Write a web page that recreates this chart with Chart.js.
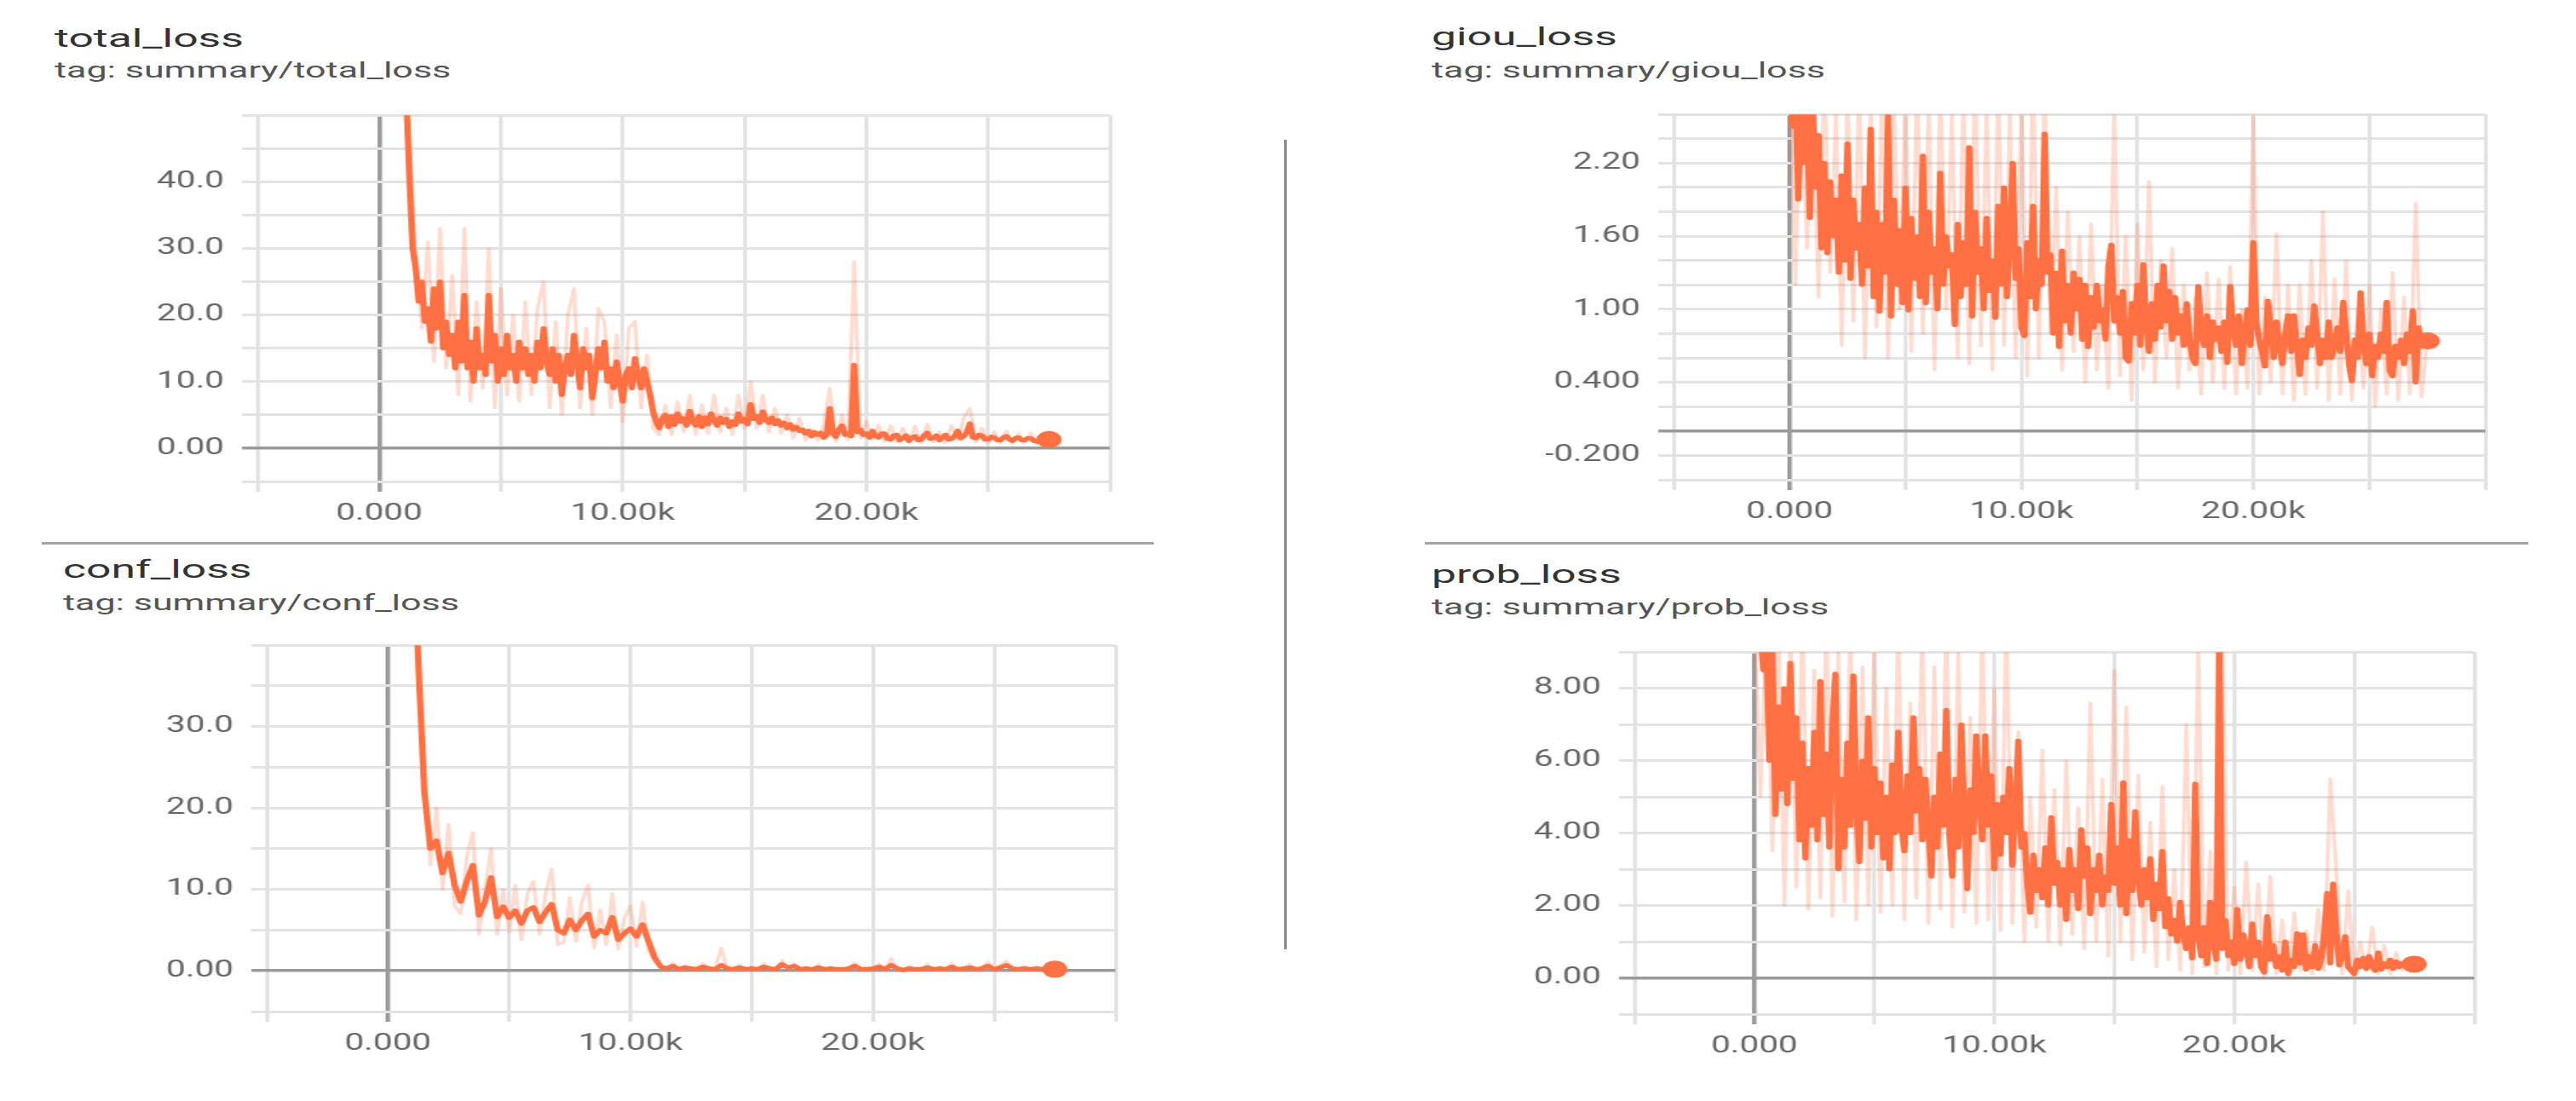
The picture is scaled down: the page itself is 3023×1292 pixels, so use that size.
<!DOCTYPE html>
<html>
<head>
<meta charset="utf-8">
<title>loss curves</title>
<script src="https://cdn.jsdelivr.net/npm/chart.js@4.4.1/dist/chart.umd.min.js"></script>
<style>
  html, body { margin: 0; padding: 0; background: #fff; }
  body { width: 3023px; height: 1292px; position: relative; overflow: hidden; font-family: Roboto, 'Noto Sans', sans-serif; }
  .title, .tag { position: absolute; white-space: nowrap; line-height: 1; transform: scaleX(1.72); transform-origin: 0 0; }
  .title { font-size: 30px; color: #333; }
  .tag { font-size: 25px; color: #555; }
  /* the source screenshot is stretched sideways, so each plot is too */
  .plot { position: absolute; transform: scaleX(1.5); transform-origin: 0 0; }
  .rule { position: absolute; background: #a3a3a3; }
</style>
</head>
<body>

<div class="title" style="left:64px;top:30px">total_loss</div>
<div class="tag" style="left:64px;top:70px">tag: summary/total_loss</div>
<div class="plot" style="left:152px;top:105px;width:777px;height:520px"><canvas id="c-total"></canvas></div>

<div class="title" style="left:1680px;top:28px">giou_loss</div>
<div class="tag" style="left:1680px;top:70px">tag: summary/giou_loss</div>
<div class="plot" style="left:1814px;top:104px;width:745px;height:519px"><canvas id="c-giou"></canvas></div>

<div class="title" style="left:74px;top:653px">conf_loss</div>
<div class="tag" style="left:74px;top:695px">tag: summary/conf_loss</div>
<div class="plot" style="left:163px;top:727px;width:774px;height:520px"><canvas id="c-conf"></canvas></div>

<div class="title" style="left:1680px;top:659px">prob_loss</div>
<div class="tag" style="left:1680px;top:700px">tag: summary/prob_loss</div>
<div class="plot" style="left:1768px;top:735px;width:767px;height:515px"><canvas id="c-prob"></canvas></div>

<div class="rule" style="left:49px;top:636px;width:1305px;height:3px"></div>
<div class="rule" style="left:1672px;top:636px;width:1295px;height:3px"></div>
<div class="rule" style="left:1507px;top:164px;width:3px;height:950px;background:#8a8a8a"></div>

<script>
/* ── data ──────────────────────────────────────────────────────── */

// raw curves and conf_loss: one value every 250 steps
const STEPS = [
  0, 250, 500, 750, 1000, 1250, 1500, 1750, 2000, 2250,
  2500, 2750, 3000, 3250, 3500, 3750, 4000, 4250, 4500, 4750,
  5000, 5250, 5500, 5750, 6000, 6250, 6500, 6750, 7000, 7250,
  7500, 7750, 8000, 8250, 8500, 8750, 9000, 9250, 9500, 9750,
  10000, 10250, 10500, 10750, 11000, 11250, 11500, 11750, 12000, 12250,
  12500, 12750, 13000, 13250, 13500, 13750, 14000, 14250, 14500, 14750,
  15000, 15250, 15500, 15750, 16000, 16250, 16500, 16750, 17000, 17250,
  17500, 17750, 18000, 18250, 18500, 18750, 19000, 19250, 19500, 19750,
  20000, 20250, 20500, 20750, 21000, 21250, 21500, 21750, 22000, 22250,
  22500, 22750, 23000, 23250, 23500, 23750, 24000, 24250, 24500, 24750,
  25000, 25250, 25500, 25750, 26000, 26250, 26500, 26750, 27000, 27250,
  27500
];

// the noisier smoothed curves: one value every 125 steps
const FINE_STEPS = [
  0, 125, 250, 375, 500, 625, 750, 875, 1000, 1125,
  1250, 1375, 1500, 1625, 1750, 1875, 2000, 2125, 2250, 2375,
  2500, 2625, 2750, 2875, 3000, 3125, 3250, 3375, 3500, 3625,
  3750, 3875, 4000, 4125, 4250, 4375, 4500, 4625, 4750, 4875,
  5000, 5125, 5250, 5375, 5500, 5625, 5750, 5875, 6000, 6125,
  6250, 6375, 6500, 6625, 6750, 6875, 7000, 7125, 7250, 7375,
  7500, 7625, 7750, 7875, 8000, 8125, 8250, 8375, 8500, 8625,
  8750, 8875, 9000, 9125, 9250, 9375, 9500, 9625, 9750, 9875,
  10000, 10125, 10250, 10375, 10500, 10625, 10750, 10875, 11000, 11125,
  11250, 11375, 11500, 11625, 11750, 11875, 12000, 12125, 12250, 12375,
  12500, 12625, 12750, 12875, 13000, 13125, 13250, 13375, 13500, 13625,
  13750, 13875, 14000, 14125, 14250, 14375, 14500, 14625, 14750, 14875,
  15000, 15125, 15250, 15375, 15500, 15625, 15750, 15875, 16000, 16125,
  16250, 16375, 16500, 16625, 16750, 16875, 17000, 17125, 17250, 17375,
  17500, 17625, 17750, 17875, 18000, 18125, 18250, 18375, 18500, 18625,
  18750, 18875, 19000, 19125, 19250, 19375, 19500, 19625, 19750, 19875,
  20000, 20125, 20250, 20375, 20500, 20625, 20750, 20875, 21000, 21125,
  21250, 21375, 21500, 21625, 21750, 21875, 22000, 22125, 22250, 22375,
  22500, 22625, 22750, 22875, 23000, 23125, 23250, 23375, 23500, 23625,
  23750, 23875, 24000, 24125, 24250, 24375, 24500, 24625, 24750, 24875,
  25000, 25125, 25250, 25375, 25500, 25625, 25750, 25875, 26000, 26125,
  26250, 26375, 26500, 26625, 26750, 26875, 27000, 27125, 27250, 27375,
  27500
];

// total_loss (smoothed on FINE_STEPS, raw on STEPS)
const TOTAL_SMOOTH = [
  200, 170, 140, 120, 100, 85, 72, 62, 55, 52,
  40, 30, 27, 22, 25, 19, 21, 16, 24, 18,
  25, 15, 19, 14, 17, 12, 19, 13, 23, 12,
  16, 10, 18, 12, 14, 11, 23, 13, 17, 10,
  15, 11, 17, 12, 14, 10, 16, 12, 15, 11,
  14, 10, 16, 12, 18, 13, 11, 15, 10, 14,
  8, 12, 14, 11, 17, 13, 9, 15, 12, 14,
  7.5, 11, 15, 12, 16, 10, 12, 9, 13, 10,
  7, 11, 12, 9, 13.5, 11, 9, 12, 10, 8,
  5.5, 4, 3, 4.5, 5, 3.2, 4.8, 3.5, 5.2, 4,
  4.5, 3.4, 5.6, 4, 3.4, 4.8, 3.2, 4.6, 3.6, 5.2,
  4.2, 3.4, 4.6, 3.8, 4.4, 3.2, 4.0, 3.5, 5.2, 4.0,
  4.4, 3.6, 6.6, 4.4, 4.8, 3.8, 5.5, 4.2, 3.8, 4.6,
  3.6, 4.2, 3.4, 3.8, 3.0, 3.6, 2.8, 3.2, 2.6, 2.8,
  2.2, 2.6, 1.8, 2.4, 2.0, 2.3, 1.6, 2.0, 6.0, 2.2,
  1.7, 2.8, 3.4, 2.0, 2.2, 1.8, 12.5, 2.4, 2.8, 2.0,
  2.2, 1.6, 2.6, 1.8, 1.6, 2.2, 2.2, 1.4, 1.3, 1.9,
  2.0, 1.2, 1.5, 1.9, 1.1, 1.6, 1.8, 1.2, 1.3, 1.9,
  2.3, 1.4, 1.5, 1.9, 1.2, 1.6, 2.0, 1.3, 1.4, 1.8,
  2.6, 1.5, 1.8, 2.4, 3.7, 1.6, 1.5, 2.0, 1.9, 1.3,
  1.3, 1.7, 1.6, 1.2, 1.2, 1.6, 1.8, 1.3, 1.1, 1.5,
  1.6, 1.2, 1.2, 1.5, 1.5, 1.1, 1.0, 1.5, 1.4, 1.3,
  1.3
];
const TOTAL_RAW = [
  160, 125, 90, 80, 55, 45, 30, 18, 31, 13,
  33, 12, 26, 8, 33, 7, 22, 9, 30, 6,
  24, 8, 20, 7, 22, 8, 21, 25, 6, 19,
  5, 20, 24, 6, 18, 5, 21, 19, 6, 17,
  4, 18, 19, 6, 14, 3, 2, 6.5, 2, 7,
  2.5, 8, 2, 6.5, 2.2, 8, 2.4, 6, 2, 8,
  3, 10, 3, 8, 2.4, 6, 2.2, 5, 1.5, 4.5,
  1.2, 2.8, 1.1, 3.5, 9, 1, 5, 1.2, 28, 1.5,
  4, 1.4, 3.5, 1.0, 3.4, 0.9, 3, 0.8, 3.3, 0.8,
  3.6, 0.9, 2.5, 0.8, 3.4, 1.2, 4.5, 6, 0.9, 3,
  0.8, 2.5, 0.8, 2.6, 0.7, 2.2, 0.8, 2.3, 0.7, 1.9,
  1.3
];

// giou_loss (smoothed on FINE_STEPS, raw on STEPS)
const GIOU_SMOOTH = [
  2.9, 2.5, 2.8, 1.9, 2.7, 2.2, 2.6, 1.75, 2.7, 2.0,
  2.43, 1.5, 2.2, 1.46, 2.05, 1.6, 1.9, 1.3, 2.1, 1.4,
  2.36, 1.25, 1.9, 1.5, 1.7, 1.2, 2.0, 1.35, 2.48, 1.1,
  1.8, 0.98, 1.7, 1.3, 2.59, 0.94, 1.9, 1.2, 1.65, 1.05,
  2.0, 0.99, 1.75, 1.25, 1.6, 1.1, 2.26, 1.05, 1.8, 1.3,
  1.5, 1.0, 2.12, 1.2, 1.6, 1.35, 1.45, 0.87, 1.7, 1.1,
  1.55, 1.2, 2.33, 0.94, 1.8, 1.3, 1.5, 1.0, 1.75, 1.15,
  1.4, 0.93, 1.85, 1.2, 2.0, 1.1, 1.6, 2.2, 1.25, 1.5,
  0.85, 0.78, 1.55, 1.1, 1.85, 1.0, 1.4, 1.2, 2.44, 1.3,
  1.45, 0.8, 1.3, 0.69, 1.48, 0.9, 1.2, 0.8, 1.3, 1.0,
  1.25, 0.75, 1.2, 0.69, 1.1, 0.85, 1.2, 0.9, 1.0, 0.75,
  1.35, 1.53, 0.9, 1.1, 0.8, 1.15, 0.6, 0.57, 1.05, 0.8,
  1.2, 0.7, 1.37, 0.9, 0.65, 1.05, 0.75, 1.2, 0.85, 1.36,
  0.9, 1.15, 0.75, 1.1, 0.8, 0.95, 0.7, 1.05, 0.75, 0.6,
  0.55, 1.19, 0.8, 0.7, 0.95, 0.6, 0.9, 0.75, 0.85, 0.65,
  0.9, 0.56, 1.19, 0.85, 0.7, 0.95, 0.55, 0.8, 1.0, 0.7,
  1.55, 0.9, 0.75, 0.65, 0.53, 1.07, 0.85, 0.6, 0.9, 0.7,
  0.55, 0.8, 0.95, 0.65, 0.95, 0.7, 0.46, 0.75, 0.6, 0.85,
  0.7, 1.03, 0.8, 0.55, 0.75, 0.6, 0.9, 0.6, 0.7, 0.85,
  0.65, 1.06, 0.8, 0.55, 0.41, 0.75, 0.6, 1.14, 0.7, 0.55,
  0.8, 0.45, 0.7, 0.6, 0.8, 0.65, 1.06, 0.5, 0.45, 0.7,
  0.6, 0.75, 0.55, 0.8, 0.65, 0.99, 0.40, 0.85, 0.7, 0.74,
  0.74
];
const GIOU_RAW = [
  3.0, 1.2, 3.0, 1.5, 2.8, 1.1, 2.9, 1.3, 2.6, 0.7,
  2.8, 0.9, 2.9, 0.6, 2.7, 0.85, 2.9, 0.6, 2.7, 1.0,
  2.8, 0.65, 2.9, 0.8, 2.7, 0.5, 2.9, 1.0, 2.6, 0.6,
  2.8, 0.55, 3.0, 0.7, 2.7, 0.5, 2.9, 0.7, 2.6, 0.6,
  2.8, 0.45, 3.0, 0.6, 2.9, 0.8, 2.0, 0.5, 1.8, 0.65,
  1.6, 0.4, 1.7, 0.5, 1.2, 0.35, 2.7, 0.45, 1.6, 0.25,
  1.7, 0.5, 2.05, 0.4, 1.4, 0.6, 1.5, 0.35, 1.2, 0.5,
  1.1, 0.3, 1.3, 0.4, 1.25, 0.35, 1.35, 0.3, 1.0, 0.35,
  2.6, 0.3, 1.1, 0.4, 1.62, 0.3, 1.2, 0.25, 1.2, 0.3,
  1.4, 0.35, 1.8, 0.25, 1.25, 0.3, 1.4, 0.25, 1.0, 0.35,
  1.2, 0.2, 1.0, 0.3, 1.3, 0.25, 1.1, 0.3, 1.87, 0.28,
  0.74
];

// conf_loss (both on STEPS)
const CONF_SMOOTH = [
  200, 150, 110, 80, 58, 38, 22, 15, 16, 12,
  14.5, 10.5, 8.5, 11, 13, 6.8, 8.5, 11.5, 6.6, 7.9,
  6.5, 7.4, 5.8, 7.4, 7.8, 6.0, 7.2, 8.2, 5.0, 4.6,
  6.3, 5.0, 6.2, 7.0, 4.2, 5.0, 4.6, 6.6, 3.8, 4.6,
  5.2, 4.2, 5.7, 3.6, 1.6, 0.5, 0.3, 0.6, 0.2, 0.4,
  0.3, 0.2, 0.5, 0.3, 0.2, 0.7, 0.3, 0.2, 0.4, 0.2,
  0.3, 0.2, 0.5, 0.3, 0.2, 0.8, 0.4, 0.6, 0.2, 0.3,
  0.2, 0.4, 0.2, 0.3, 0.2, 0.2, 0.3, 0.6, 0.2, 0.2,
  0.3, 0.5, 0.2, 0.7, 0.3, 0.1, 0.3, 0.2, 0.2, 0.4,
  0.2, 0.3, 0.2, 0.5, 0.2, 0.3, 0.4, 0.2, 0.3, 0.6,
  0.2, 0.4, 0.7, 0.3, 0.2, 0.3, 0.2, 0.3, 0.2, 0.2,
  0.2
];
const CONF_RAW = [
  200, 150, 110, 80, 55, 40, 25, 13, 20, 10,
  18, 8, 7, 14, 17, 4.5, 10, 15, 4.5, 10,
  4.8, 10.5, 3.8, 9.5, 11, 4.5, 9.5, 12.5, 3.2, 3.5,
  9, 3.6, 8.5, 10.5, 2.8, 7.5, 3.2, 9.5, 2.6, 6.5,
  8, 3, 8.5, 2.5, 1.2, 0.4, 0.1, 1.0, 0.1, 0.7,
  0.1, 0.5, 0.9, 0.1, 0.4, 2.8, 0.1, 0.3, 0.8, 0.1,
  0.5, 0.1, 0.9, 0.2, 0.1, 1.3, 0.1, 0.9, 0.1, 0.5,
  0.1, 0.8, 0.1, 0.5, 0.1, 0.3, 0.1, 1.0, 0.1, 0.4,
  0.1, 0.9, 0.1, 1.5, 0.1, 0.0, 0.6, 0.1, 0.3, 0.8,
  0.1, 0.5, 0.1, 0.9, 0.1, 0.4, 0.8, 0.1, 0.5, 1.1,
  0.1, 0.7, 1.2, 0.1, 0.3, 0.6, 0.1, 0.5, 0.1, 0.3,
  0.2
];

// prob_loss (smoothed on FINE_STEPS, raw on STEPS)
const PROB_SMOOTH = [
  9.6, 9.3, 9.5, 8.5, 9.2, 6.0, 9.0, 4.5, 7.5, 5.2,
  8.0, 4.8, 8.7, 5.5, 7.2, 3.8, 6.5, 3.3, 5.8, 4.2,
  6.8, 3.8, 8.2, 4.5, 6.2, 3.6, 7.0, 8.4, 3.0, 5.5,
  3.6, 6.5, 4.2, 8.35, 4.8, 3.2, 6.0, 4.4, 7.2, 3.6,
  5.8, 4.0, 5.4, 3.3, 5.0, 3.0, 5.9, 4.0, 6.8, 4.2,
  3.5, 5.6, 4.0, 7.2, 4.6, 5.8, 3.8, 5.5, 4.2, 2.8,
  5.0, 3.6, 6.2, 4.2, 7.4, 4.0, 2.8, 5.5, 3.6, 7.0,
  4.5, 2.45, 5.2, 4.0, 6.7, 4.8, 3.8, 6.7, 4.2, 5.6,
  3.0, 4.8, 3.4, 5.0, 4.0, 5.8, 3.1, 4.6, 6.55, 3.6,
  4.0, 2.6, 1.8, 3.4, 2.4, 3.0, 2.2, 3.6, 2.0, 4.44,
  2.6, 3.2, 2.0, 3.0, 1.6, 3.56, 2.4, 3.0, 1.9, 4.1,
  2.8, 3.6, 1.76, 3.0, 2.4, 3.4, 2.0, 2.8, 2.4, 4.8,
  2.6, 3.6, 2.0, 5.4, 1.76, 3.8, 2.4, 4.6, 2.8, 2.0,
  3.0, 2.2, 3.3, 1.6, 2.6, 1.9, 3.5, 1.4, 2.2, 1.2,
  1.6, 1.0, 2.1, 1.2, 0.8, 1.4, 0.54, 5.36, 1.2, 0.6,
  1.4, 0.38, 2.1, 1.0, 0.5, 9.5, 0.8, 1.6, 0.6, 1.0,
  0.38, 1.9, 0.5, 1.2, 0.8, 0.3, 1.5, 0.6, 1.0, 0.3,
  0.15, 1.7, 0.5, 0.9, 0.3, 0.6, 0.2, 1.0, 0.11, 0.5,
  0.3, 1.23, 0.4, 1.2, 0.23, 0.6, 0.3, 0.9, 0.25, 0.5,
  1.2, 2.34, 0.4, 2.6, 1.3, 0.35, 0.6, 1.15, 0.3, 0.2,
  0.11, 0.5, 0.3, 0.55, 0.25, 0.6, 0.3, 0.2, 0.7, 0.23,
  0.4, 0.3, 0.5, 0.25, 0.45, 0.3, 0.4, 0.35, 0.45, 0.38,
  0.38
];
const PROB_RAW = [
  10, 5, 10, 3.5, 10, 2.0, 9.5, 2.5, 10, 1.9,
  8.5, 2.2, 10, 1.7, 9, 2.1, 10, 1.6, 8.6, 2.0,
  9.2, 1.8, 8.0, 2.0, 10, 1.6, 7.6, 2.2, 10, 1.5,
  8.6, 1.9, 10, 1.4, 9.0, 1.8, 7.2, 1.5, 10, 1.6,
  8.0, 1.3, 10, 1.5, 6.8, 1.0, 5.0, 1.4, 6.3, 1.0,
  5.2, 0.9, 6.0, 1.2, 4.7, 0.8, 7.6, 1.0, 5.5, 0.6,
  8.5, 1.0, 7.5, 0.5, 5.6, 0.7, 4.3, 0.3, 5.3, 0.5,
  3.0, 0.2, 7.0, 0.1, 9.2, 0.3, 3.5, 0.1, 10, 0.2,
  2.5, 0.1, 3.2, 0.2, 2.6, 0.0, 2.8, 0.1, 1.6, 0.0,
  1.8, 0.2, 1.3, 0.1, 1.9, 0.2, 5.5, 3.0, 0.1, 2.4,
  0.0, 1.0, 0.2, 1.4, 0.1, 0.9, 0.1, 0.7, 0.2, 0.5,
  0.38
];

/* ── axes: grid positions and the labels TensorBoard shows ─────── */

const X_GRID      = [-5000, 0, 5000, 10000, 15000, 20000, 25000, 30000];
const X_TICK_TEXT = ['', '0.000', '', '10.00k', '', '20.00k', '', ''];

const TOTAL_Y_GRID = [-5, 0, 5, 10, 15, 20, 25, 30, 35, 40, 45, 50];
const TOTAL_Y_TEXT = ['', '0.00', '', '10.0', '', '20.0', '', '30.0', '', '40.0', '', ''];

const CONF_Y_GRID = [-5, 0, 5, 10, 15, 20, 25, 30, 35, 40];
const CONF_Y_TEXT = ['', '0.00', '', '10.0', '', '20.0', '', '30.0', '', ''];

const GIOU_Y_GRID = [-0.4, -0.2, 0, 0.2, 0.4, 0.6, 0.8, 1.0, 1.2, 1.4, 1.6, 1.8, 2.0, 2.2, 2.4, 2.6];
const GIOU_Y_TEXT = ['', '-0.200', '', '', '0.400', '', '', '1.00', '', '', '1.60', '', '', '2.20', '', ''];

const PROB_Y_GRID = [-1, 0, 1, 2, 3, 4, 5, 6, 7, 8, 9];
const PROB_Y_TEXT = ['', '0.00', '', '2.00', '', '4.00', '', '6.00', '', '8.00', ''];

/* ── look ──────────────────────────────────────────────────────── */

const LINE_COLOR = '#ff7043';
const RAW_COLOR  = 'rgba(255,112,67,.25)';
const GRID_COLOR = '#e3e3e3';
const ZERO_COLOR = '#9b9b9b';
const TICK_FONT  = { family: 'Roboto, sans-serif', size: 27 };
const TICK_COLOR = '#666';

const gridOpts = tickLen => ({
  color: c => (c.tick && c.tick.value === 0 ? ZERO_COLOR : GRID_COLOR),
  lineWidth: c => (c.tick && c.tick.value === 0 ? 3.5 : 3),
  drawTicks: true,
  tickLength: tickLen
});

function lossChart(id, smoothSteps, smooth, raw, yGrid, yText) {
  const last = smoothSteps.length - 1;
  const pts = (xs, ys) => xs.map((x, i) => ({ x, y: ys[i] }));

  return new Chart(document.getElementById(id), {
    type: 'line',
    data: {
      datasets: [
        {
          data: pts(smoothSteps, smooth), borderColor: LINE_COLOR, borderWidth: 5, borderJoinStyle: 'round',
          pointRadius: c => (c.dataIndex === last ? 10 : 0), pointHoverRadius: 0,
          pointBackgroundColor: LINE_COLOR, pointBorderWidth: 0
        },
        { data: pts(STEPS, raw), borderColor: RAW_COLOR, borderWidth: 3, borderJoinStyle: 'round', pointRadius: 0 }
      ]
    },
    options: {
      responsive: true, maintainAspectRatio: false, animation: false,
      layout: { padding: { top: 20, right: 6, left: 0, bottom: 0 } },
      elements: { line: { tension: 0 } },
      plugins: { legend: { display: false }, tooltip: { enabled: false } },
      scales: {
        x: {
          type: 'linear', min: X_GRID[0], max: X_GRID[X_GRID.length - 1],
          afterBuildTicks: a => { a.ticks = X_GRID.map(v => ({ value: v })); },
          afterFit: a => { a.height = 60; },
          grid: gridOpts(12), border: { display: false },
          ticks: { autoSkip: false, maxRotation: 0, padding: 10, color: TICK_COLOR, font: TICK_FONT,
                   callback: (v, i) => X_TICK_TEXT[i] }
        },
        y: {
          type: 'linear', min: yGrid[0], max: yGrid[yGrid.length - 1],
          afterBuildTicks: a => { a.ticks = yGrid.map(v => ({ value: v })); },
          afterFit: a => { a.width = 100; },
          grid: gridOpts(12), border: { display: false },
          ticks: { autoSkip: false, padding: 14, color: TICK_COLOR, font: TICK_FONT,
                   callback: (v, i) => yText[i] }
        }
      }
    }
  });
}

lossChart('c-total', FINE_STEPS, TOTAL_SMOOTH, TOTAL_RAW, TOTAL_Y_GRID, TOTAL_Y_TEXT);
lossChart('c-giou',  FINE_STEPS, GIOU_SMOOTH,  GIOU_RAW,  GIOU_Y_GRID,  GIOU_Y_TEXT);
lossChart('c-conf',  STEPS,      CONF_SMOOTH,  CONF_RAW,  CONF_Y_GRID,  CONF_Y_TEXT);
lossChart('c-prob',  FINE_STEPS, PROB_SMOOTH,  PROB_RAW,  PROB_Y_GRID,  PROB_Y_TEXT);
</script>
</body>
</html>
